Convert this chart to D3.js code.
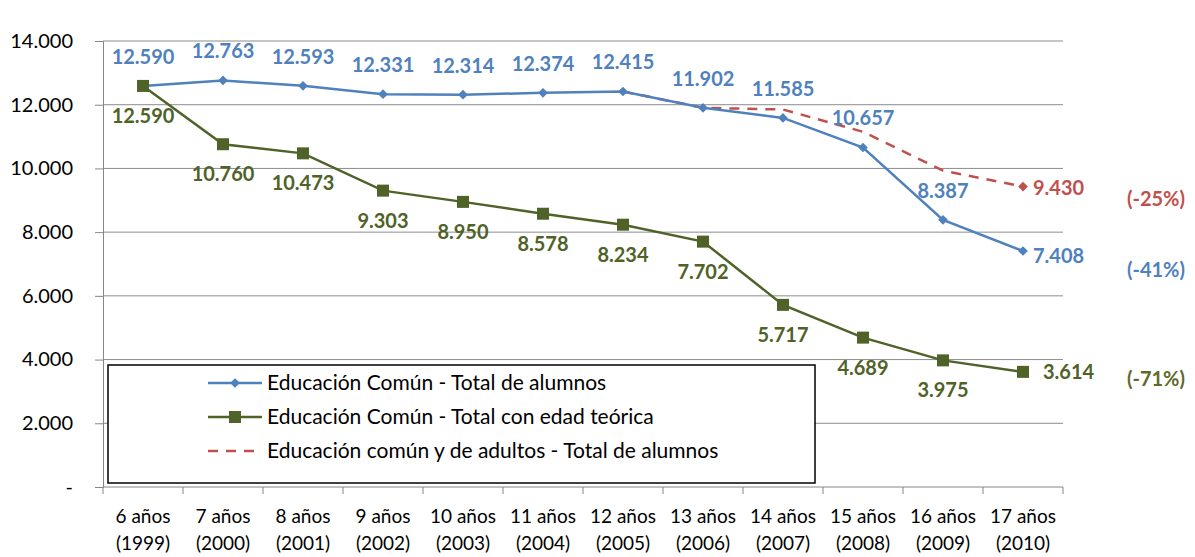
<!DOCTYPE html>
<html>
<head>
<meta charset="utf-8">
<script src="https://cdn.jsdelivr.net/npm/d3@7"></script>
<style>
  body { margin: 0; background: #fff; }
  svg text { font-family: Lato, "Liberation Sans", sans-serif; }
</style>
</head>
<body>
<svg id="chart" width="1195" height="557"></svg>
<script>
// categories (age / year)
var edades = ["6 años", "7 años", "8 años", "9 años", "10 años", "11 años", "12 años", "13 años", "14 años", "15 años", "16 años", "17 años"];
var anios = ["(1999)", "(2000)", "(2001)", "(2002)", "(2003)", "(2004)", "(2005)", "(2006)", "(2007)", "(2008)", "(2009)", "(2010)"];

// series values
var totalAlumnos = [12590, 12763, 12593, 12331, 12314, 12374, 12415, 11902, 11585, 10657, 8387, 7408];
var edadTeorica = [12590, 10760, 10473, 9303, 8950, 8578, 8234, 7702, 5717, 4689, 3975, 3614];
var conAdultos = [null, null, null, null, null, null, 12415, 11902, 11850, 11150, 9930, 9430];

var yTicks = [0, 2000, 4000, 6000, 8000, 10000, 12000, 14000];
var nombres = ["Educación Común - Total de alumnos", "Educación Común - Total con edad teórica", "Educación común y de adultos - Total de alumnos"];
var variaciones = ["(-41%)", "(-71%)", "(-25%)"];

var azul = "#4f81bd", verde = "#4f6228", rojo = "#c0504d";

var svg = d3.select("#chart");
var margin = {left: 103, right: 132, top: 41, bottom: 70};
var width = 1195 - margin.left - margin.right;
var height = 557 - margin.top - margin.bottom;

var g = svg.append("g").attr("transform", "translate(" + margin.left + "," + margin.top + ")");

var x = d3.scaleBand().domain(d3.range(edades.length)).range([0, width]);
var y = d3.scaleLinear().domain([0, 14000]).range([height, 0]);
var cx = function(i) { return x(i) + x.bandwidth() / 2; };

// format 12590 -> 12.590
var fmt = function(v) {
  if (v === 0) return "-";
  return d3.format(",")(v).replace(/,/g, ".");
};

// gridlines
g.append("g").selectAll("line")
  .data(yTicks.filter(function(d) { return d > 0; }))
  .enter().append("line")
    .attr("x1", 0).attr("x2", width)
    .attr("y1", function(d) { return y(d); })
    .attr("y2", function(d) { return y(d); })
    .attr("stroke", "#8c8c8c")
    .attr("stroke-width", 1);

// y axis
var yAxis = d3.axisLeft(y).tickValues(yTicks).tickSize(8).tickPadding(22).tickFormat(fmt);
var yg = g.append("g").call(yAxis);
yg.select(".domain").attr("stroke", "#868686");
yg.selectAll(".tick line").attr("stroke", "#868686");
yg.selectAll(".tick text").attr("font-size", 20).attr("fill", "#000")
  .style("font-family", "Lato, sans-serif");

// x axis
var xAxis = d3.axisBottom(x).tickSize(0).tickFormat("");
var xg = g.append("g").attr("transform", "translate(0," + height + ")").call(xAxis);
xg.select(".domain").attr("stroke", "#868686").attr("d", "M0,0H" + width);
xg.selectAll(".sep")
  .data(d3.range(edades.length + 1))
  .enter().append("line")
    .attr("x1", function(i) { return i * x.bandwidth(); })
    .attr("x2", function(i) { return i * x.bandwidth(); })
    .attr("y1", 0).attr("y2", 7)
    .attr("stroke", "#868686");

var xl = g.append("g").attr("transform", "translate(0," + height + ")");
xl.selectAll(".edad").data(edades).enter().append("text")
  .attr("x", function(d, i) { return cx(i); })
  .attr("y", 36)
  .attr("text-anchor", "middle")
  .attr("font-size", 19)
  .text(function(d) { return d; });
xl.selectAll(".anio").data(anios).enter().append("text")
  .attr("x", function(d, i) { return cx(i); })
  .attr("y", 63)
  .attr("text-anchor", "middle")
  .attr("font-size", 19)
  .text(function(d) { return d; });

// legend box
var leg = svg.append("g");
leg.append("rect")
  .attr("x", 108).attr("y", 365).attr("width", 707).attr("height", 118)
  .attr("fill", "#fff").attr("stroke", "#000").attr("stroke-width", 1.5);

// lines
var line = d3.line()
  .defined(function(d) { return d != null; })
  .x(function(d, i) { return cx(i); })
  .y(function(d) { return y(d); });

g.append("path").datum(conAdultos)
  .attr("d", line).attr("fill", "none")
  .attr("stroke", rojo).attr("stroke-width", 2.5).attr("stroke-dasharray", "10,8");

g.append("path").datum(totalAlumnos)
  .attr("d", line).attr("fill", "none")
  .attr("stroke", azul).attr("stroke-width", 2.5);

g.append("path").datum(edadTeorica)
  .attr("d", line).attr("fill", "none")
  .attr("stroke", verde).attr("stroke-width", 2.5);

// markers
var diamond = d3.symbol().type(d3.symbolDiamond2).size(60);
g.selectAll(".pa").data(totalAlumnos).enter().append("path")
  .attr("d", diamond)
  .attr("transform", function(d, i) { return "translate(" + cx(i) + "," + y(d) + ")"; })
  .attr("fill", azul);

g.selectAll(".pv").data(edadTeorica).enter().append("rect")
  .attr("x", function(d, i) { return cx(i) - 6; })
  .attr("y", function(d) { return y(d) - 6; })
  .attr("width", 12).attr("height", 12)
  .attr("fill", verde);

var ultimo = conAdultos.length - 1;
g.append("path")
  .attr("d", diamond)
  .attr("transform", "translate(" + cx(ultimo) + "," + y(conAdultos[ultimo]) + ")")
  .attr("fill", rojo);

// data labels: blue above, green below, last point to the right
g.selectAll(".la").data(totalAlumnos).enter().append("text")
  .attr("x", function(d, i) { return i === ultimo ? cx(i) + 10 : cx(i); })
  .attr("y", function(d, i) { return i === ultimo ? y(d) + 12 : y(d) - 22; })
  .attr("text-anchor", function(d, i) { return i === ultimo ? "start" : "middle"; })
  .attr("font-size", 20).attr("font-weight", "bold").attr("fill", azul)
  .text(fmt);

g.selectAll(".lv").data(edadTeorica).enter().append("text")
  .attr("x", function(d, i) { return i === ultimo ? cx(i) + 20 : cx(i); })
  .attr("y", function(d, i) { return i === ultimo ? y(d) + 7 : y(d) + 37; })
  .attr("text-anchor", function(d, i) { return i === ultimo ? "start" : "middle"; })
  .attr("font-size", 20).attr("font-weight", "bold").attr("fill", verde)
  .text(fmt);

g.append("text")
  .attr("x", cx(ultimo) + 10).attr("y", y(conAdultos[ultimo]) + 8)
  .attr("font-size", 20).attr("font-weight", "bold").attr("fill", rojo)
  .text(fmt(conAdultos[ultimo]));

// percent changes
var pctY = [y(totalAlumnos[ultimo]) + 26, y(edadTeorica[ultimo]) + 14, y(conAdultos[ultimo]) + 19];
var pctCol = [azul, "#5f6a2a", rojo];
g.selectAll(".pct").data(variaciones).enter().append("text")
  .attr("x", width + 122)
  .attr("y", function(d, i) { return pctY[i]; })
  .attr("text-anchor", "end")
  .attr("font-size", 20).attr("font-weight", "bold")
  .attr("fill", function(d, i) { return pctCol[i]; })
  .text(function(d) { return d; });

// legend entries
var legY = [383, 417, 451];
var legCol = [azul, verde, rojo];
nombres.forEach(function(n, i) {
  var ly = legY[i];
  leg.append("line")
    .attr("x1", 208).attr("x2", 262).attr("y1", ly).attr("y2", ly)
    .attr("stroke", legCol[i]).attr("stroke-width", 2.5)
    .attr("stroke-dasharray", i === 2 ? "10,8" : null);
  if (i === 0) {
    leg.append("path").attr("d", diamond).attr("transform", "translate(235," + ly + ")").attr("fill", azul);
  } else if (i === 1) {
    leg.append("rect").attr("x", 229).attr("y", ly - 6).attr("width", 12).attr("height", 12).attr("fill", verde);
  }
  leg.append("text")
    .attr("x", 267).attr("y", ly + 7)
    .attr("font-size", 21).attr("fill", "#000")
    .text(n);
});
</script>
</body>
</html>
